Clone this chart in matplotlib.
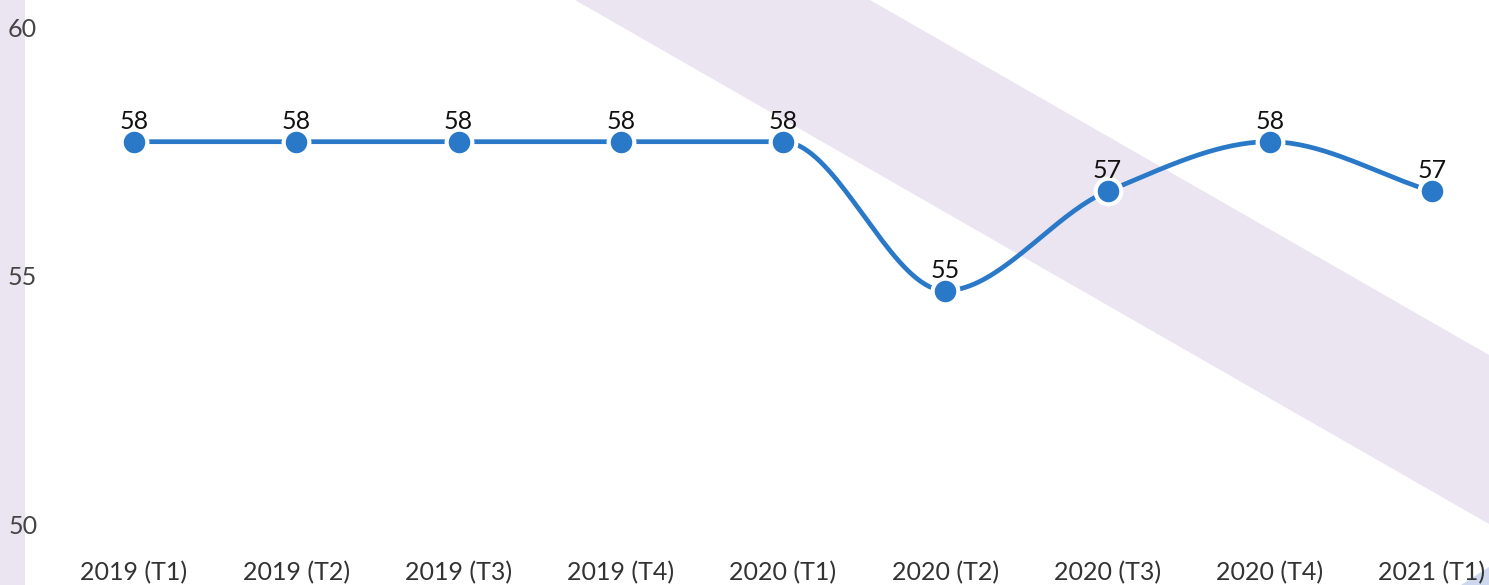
"""Quarterly score line chart with diagonal background band."""
import numpy as np
import matplotlib
matplotlib.use('Agg')
import matplotlib.pyplot as plt
from matplotlib.patches import Polygon, Rectangle

quarters = ['2019 (T1)', '2019 (T2)', '2019 (T3)', '2019 (T4)', '2020 (T1)',
            '2020 (T2)', '2020 (T3)', '2020 (T4)', '2021 (T1)']
scores = [57.7, 57.7, 57.7, 57.7, 57.7, 54.7, 56.7, 57.7, 56.7]
y_ticks = [50, 55, 60]

LINE_COLOR = '#2979c8'
BAND_COLOR = '#ebe4f1'
W, H = 1489, 585


def monotone_curve(x, y, n=40):
    """Fritsch-Carlson monotone cubic through the points (drawing only)."""
    x = np.asarray(x, float)
    y = np.asarray(y, float)
    h = np.diff(x)
    d = np.diff(y) / h
    m = np.zeros_like(y)
    m[0], m[-1] = d[0], d[-1]
    for i in range(1, len(y) - 1):
        if d[i - 1] * d[i] <= 0:
            m[i] = 0
        else:
            w1 = 2 * h[i] + h[i - 1]
            w2 = h[i] + 2 * h[i - 1]
            m[i] = (w1 + w2) / (w1 / d[i - 1] + w2 / d[i])
    xs, ys = [], []
    for i in range(len(h)):
        t = np.linspace(0, 1, n)
        h00 = 2 * t**3 - 3 * t**2 + 1
        h10 = t**3 - 2 * t**2 + t
        h01 = -2 * t**3 + 3 * t**2
        h11 = t**3 - t**2
        xs.append(x[i] + t * h[i])
        ys.append(h00 * y[i] + h10 * h[i] * m[i] + h01 * y[i + 1]
                  + h11 * h[i] * m[i + 1])
    return np.concatenate(xs), np.concatenate(ys)


plt.rcParams['font.family'] = ['Lato', 'DejaVu Sans']

fig = plt.figure(figsize=(W / 100, H / 100), dpi=100)
fig.patch.set_facecolor('white')

# background decoration (pixel coordinates, y from top)
def fig_xy(pts):
    return [(px / W, 1 - py / H) for px, py in pts]

fig.add_artist(Rectangle((0, 0), 25 / W, 1, transform=fig.transFigure,
                         facecolor=BAND_COLOR, edgecolor='none', zorder=0))
fig.add_artist(Polygon(fig_xy([(575, 0), (870, 0), (1489, 355), (1489, 524)]),
                       closed=True, transform=fig.transFigure,
                       facecolor=BAND_COLOR, edgecolor='none', zorder=0))
fig.add_artist(Polygon(fig_xy([(1461, 585), (1489, 567), (1489, 585)]),
                       closed=True, transform=fig.transFigure,
                       facecolor='#cdd8ef', edgecolor='none', zorder=0))

# axes: left 40px, bottom at y=50 (pixel 524), top at figure top
left_px, bottom_px = 40, 524
ax = fig.add_axes([left_px / W, (H - bottom_px) / H,
                   1 - left_px / W, bottom_px / H])
ax.set_facecolor('none')
px_per_cat = (1432 - 134) / 8
ax.set_xlim(-(134 - left_px) / px_per_cat, 8 + (W - 1432) / px_per_cat)
px_per_unit = (524 - 27.5) / 10
ax.set_ylim(50, 60 + 27.5 / px_per_unit)

xs = np.arange(len(quarters))
cx, cy = monotone_curve(xs, scores)
ax.plot(cx, cy, color=LINE_COLOR, lw=3.4, solid_capstyle='butt', zorder=3)
ax.plot(xs, scores, 'o', color=LINE_COLOR, ms=18.5, mec='white', mew=3,
        zorder=4)
for x, v in zip(xs, scores):
    ax.annotate(f'{round(v):d}', (x, v), xytext=(0, 6.5),
                textcoords='offset points', ha='center', va='bottom',
                fontsize=18, color='#111111', zorder=5)

ax.set_xticks(xs)
ax.set_xticklabels(quarters)
ax.set_yticks(y_ticks)
ax.tick_params(axis='x', length=0, pad=27, labelsize=18, labelcolor='#333333')
ax.tick_params(axis='y', length=0, pad=2, labelsize=18, labelcolor='#444444')
for spine in ax.spines.values():
    spine.set_visible(False)

fig.savefig('out.png', dpi=100)
